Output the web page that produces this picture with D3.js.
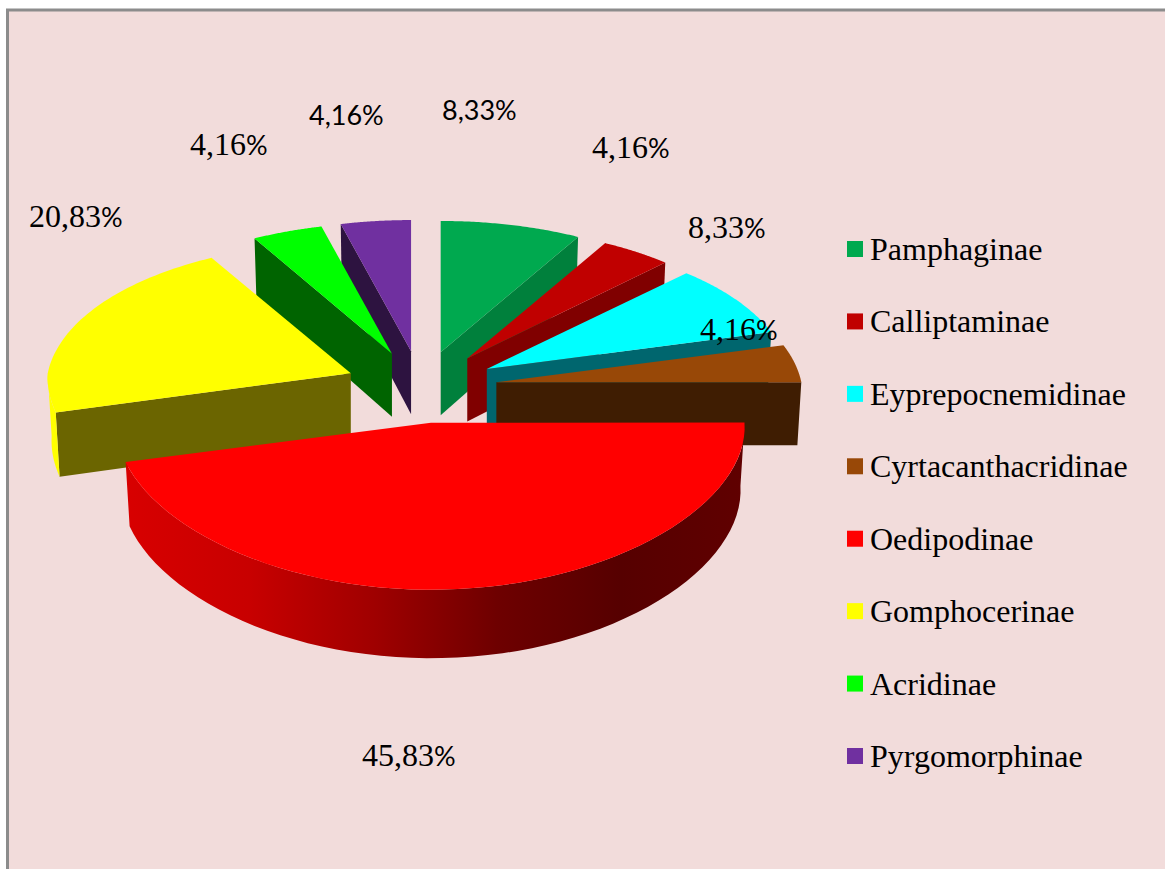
<!DOCTYPE html>
<html>
<head>
<meta charset="utf-8">
<script src="https://cdnjs.cloudflare.com/ajax/libs/d3/7.8.5/d3.min.js"></script>
<style>
html,body{margin:0;padding:0;background:#fff;}
svg{display:block;}
</style>
</head>
<body>
<svg id="chart" width="1165" height="869"></svg>
<script>
// ---- data ----
const categories = ["Pamphaginae","Calliptaminae","Eyprepocnemidinae","Cyrtacanthacridinae","Oedipodinae","Gomphocerinae","Acridinae","Pyrgomorphinae"];
const values = [8.33,4.16,8.33,4.16,45.83,20.83,4.16,4.16];
const valueLabels = ["8,33","4,16","8,33","4,16","45,83","20,83","4,16","4,16"];
const topColors = ["#00A94F","#C00000","#00FFFF","#984807","#FF0000","#FFFF00","#00FF00","#7030A0"];
const wallColors = ["#00803C","#800000","#00666E","#3F1D02","#A00000","#6B6500","#006400","#2D1340"];
const outerColors = ["#00803C","#800000","#00666E","#3F1D02","url(#oedWall)","#FFFF00","#006400","#2D1340"];
const oedWallStops = ["#D80000","#C80000","#A00000","#6E0000","#560000","#600000"];

// ---- layout ----
const W = 1165, H = 869;
const center = {x:421, y:387};
const explode = {x:76, y:36};
const radius = {x:306, y:147, kxBack:0.10, kxFront:0.03, ky:0.12, near:0.025};
const depth = {base:63, k:0.08, shrink:0.987};
const paintOrder = [0,1,2,3,7,6,5,4];
const labelStyle = {
  // per-label placement (left x, baseline y, font of the number)
  at: [[442,120,"sans"],[592,158,"serif"],[688,238,"serif"],[700,340,"serif"],[362,766,"serif"],[29,227,"serif"],[190,155,"serif"],[309,125,"sans"]]
};

const svg = d3.select("#chart");

// frame
svg.append("rect").attr("width",W).attr("height",H).attr("fill","#fff");
svg.append("rect").attr("x",7.5).attr("y",10).attr("width",W+20).attr("height",H+20)
   .attr("fill","#F2DCDB").attr("stroke","#8C8C8C").attr("stroke-width",3);

// gradient for the big slice's rim
const defs = svg.append("defs");
const grad = defs.append("linearGradient").attr("id","oedWall")
  .attr("gradientUnits","userSpaceOnUse").attr("x1",125).attr("x2",745).attr("y1",0).attr("y2",0);
oedWallStops.forEach((c,i)=>grad.append("stop").attr("offset",i/(oedWallStops.length-1)).attr("stop-color",c));

// pie angles
const arcs = d3.pie().sort(null).value(d=>d)(values);
const line = d3.line().x(d=>d[0]).y(d=>d[1]);

// perspective projection of a polar ground point, relative to a slice's apex
function project(apex, angle, r, lower){
  const Y = -Math.cos(angle)*r;
  const X = Math.sin(angle)*r;
  const px = 1/(1-(Y<0?radius.kxBack:radius.kxFront)*Y);
  const py = 1/(1-radius.ky*Y);
  const d = lower ? depth.base/(1-depth.k*Y) : 0;
  const s = lower ? depth.shrink : 1;
  return [apex.x + X*radius.x*apex.scale*px*s, apex.y + Y*radius.y*py + d];
}
function apexOf(a){
  const m = (a.startAngle+a.endAngle)/2;
  return {x:center.x+Math.sin(m)*explode.x, y:center.y-Math.cos(m)*explode.y, scale:1-radius.near*Math.cos(m)};
}
function sweep(a0,a1){ return d3.range(0,61).map(i=>a0+(a1-a0)*i/60); }

const g = svg.append("g");
paintOrder.forEach(i=>{
  const a = arcs[i], apex = apexOf(a);
  const layer = g.append("g").attr("class","slice").attr("data-name",categories[i]);
  const radial = ang => [project(apex,ang,1,false),project(apex,ang,1,true),project(apex,ang,0,true),project(apex,ang,0,false)];
  // visible straight wall
  if (a.endAngle <= Math.PI/2+0.02)
    layer.append("path").attr("d",line(radial(a.endAngle))+"Z").attr("fill",wallColors[i]);
  if (a.startAngle >= Math.PI-0.02)
    layer.append("path").attr("d",line(radial(a.startAngle))+"Z").attr("fill",wallColors[i]);
  // visible rim
  const r0 = Math.max(a.startAngle,Math.PI/2), r1 = Math.min(a.endAngle,Math.PI*1.5);
  if (r1>r0){
    const pts = sweep(r0,r1);
    const rim = pts.map(t=>project(apex,t,1,false)).concat(pts.slice().reverse().map(t=>project(apex,t,1,true)));
    layer.append("path").attr("d",line(rim)+"Z").attr("fill",outerColors[i]);
  }
  // top face
  const top = [project(apex,0,0,false)].concat(sweep(a.startAngle,a.endAngle).map(t=>project(apex,t,1,false)));
  layer.append("path").attr("d",line(top)+"Z").attr("fill",topColors[i]);
});

// value labels
const serif = "'Liberation Serif','Times New Roman',serif", sans = "Lato,'Open Sans',sans-serif";
valueLabels.forEach((t,i)=>{
  const [x,y,kind] = labelStyle.at[i];
  const txt = svg.append("text").attr("x",x).attr("y",y).attr("fill","#000");
  if (kind==="sans"){
    txt.attr("font-family",sans).attr("font-size",27).text(t+"%");
  } else {
    txt.attr("font-family",serif).attr("font-size",32).text(t);
    txt.append("tspan").attr("font-family",sans).attr("font-size",27).text("%");
  }
});

// legend
const legendY = d3.scalePoint().domain(categories).range([249,756]);
const leg = svg.append("g");
categories.forEach((c,i)=>{
  leg.append("rect").attr("x",847).attr("y",legendY(c)-8).attr("width",16).attr("height",16).attr("fill",topColors[i]);
  leg.append("text").attr("x",870).attr("y",legendY(c)+11).attr("font-family",serif).attr("font-size",32).attr("fill","#000").text(c);
});
</script>
</body>
</html>
